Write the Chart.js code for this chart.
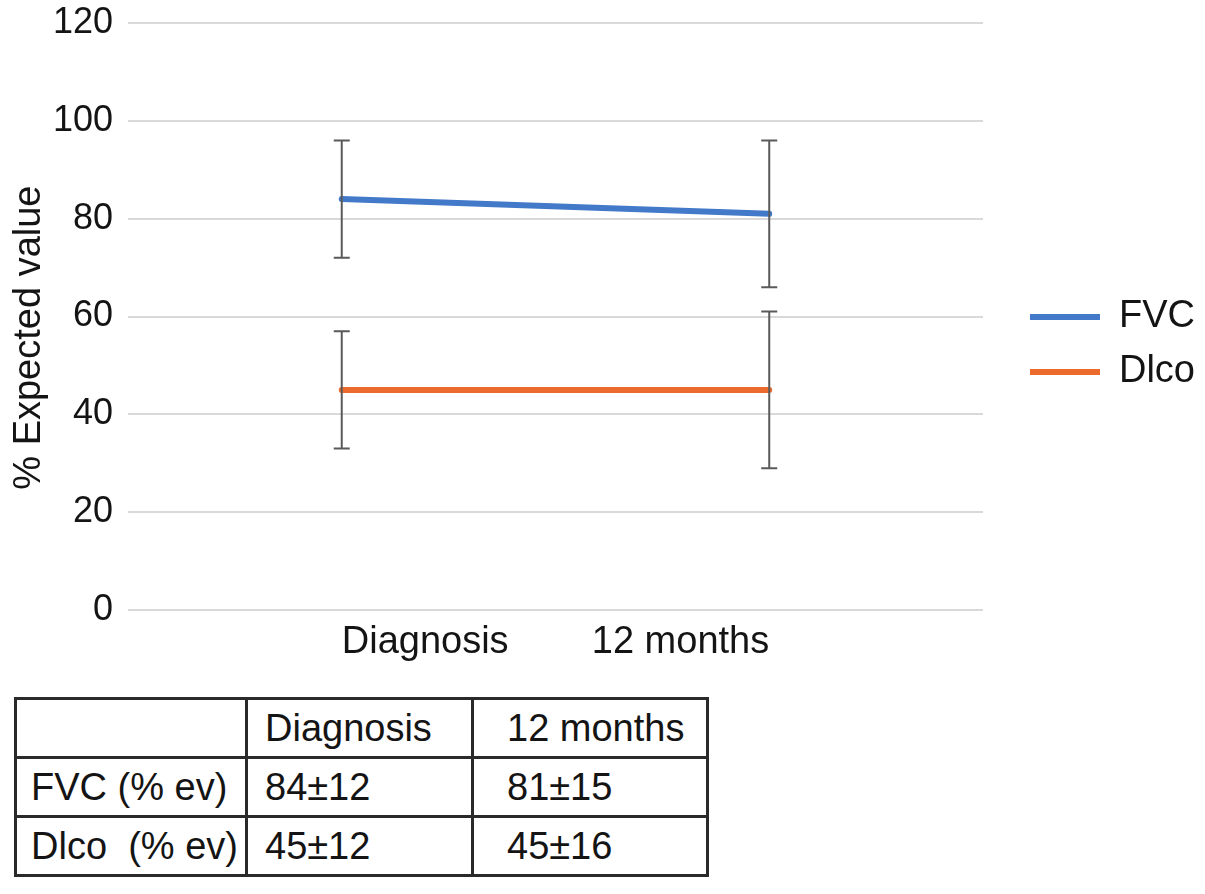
<!DOCTYPE html>
<html>
<head>
<meta charset="utf-8">
<script src="https://cdn.jsdelivr.net/npm/chart.js@4/dist/chart.umd.min.js"></script>
<style>
  html, body { margin: 0; padding: 0; background: #ffffff; }
  body { width: 1205px; height: 894px; position: relative; overflow: hidden; font-family: "Liberation Sans", Arial, sans-serif; }
  #wrap { position: absolute; left: 0; top: 0; width: 1205px; height: 666px; }
  table { position: absolute; left: 14px; top: 697px; border-collapse: collapse; font-family: "Liberation Sans", Arial, sans-serif; font-size: 38px; color: #141414; }
  td { border: 3px solid #2a2a2a; height: 56px; padding: 0; vertical-align: middle; white-space: pre; }
  td.c0 { width: 214px; padding-left: 14px; }
  td.c1 { width: 206px; padding-left: 17px; }
  td.c2 { width: 199px; padding-left: 33px; }
</style>
</head>
<body>
<div id="wrap"><canvas id="c"></canvas></div>
<table id="tbl"></table>
<script>
// ---- data ----
const categories = ["Diagnosis", "12 months"];
const seriesNames = ["FVC", "Dlco"];
const fvcMean = [84, 81];
const fvcSD = [12, 15];
const dlcoMean = [45, 45];
const dlcoSD = [12, 16];
const yTicks = [0, 20, 40, 60, 80, 100, 120];
const tableHeader = ["", "Diagnosis", "12 months"];
const tableRowLabels = ["FVC (% ev)", "Dlco  (% ev)"];

// ---- table ----
(function buildTable() {
  const tbl = document.getElementById('tbl');
  const rows = [tableHeader];
  rows.push([tableRowLabels[0], fvcMean[0] + "\u00B1" + fvcSD[0], fvcMean[1] + "\u00B1" + fvcSD[1]]);
  rows.push([tableRowLabels[1], dlcoMean[0] + "\u00B1" + dlcoSD[0], dlcoMean[1] + "\u00B1" + dlcoSD[1]]);
  rows.forEach(r => {
    const tr = document.createElement('tr');
    r.forEach((txt, i) => {
      const td = document.createElement('td');
      td.className = 'c' + i;
      td.textContent = txt;
      tr.appendChild(td);
    });
    tbl.appendChild(tr);
  });
})();

// ---- error bars plugin ----
const errorBars = {
  id: 'errorBars',
  afterDatasetsDraw(chart) {
    const ctx = chart.ctx;
    const yS = chart.scales.y;
    ctx.save();
    ctx.strokeStyle = '#5a5a5a';
    ctx.lineWidth = 2;
    chart.data.datasets.forEach((ds, i) => {
      const meta = chart.getDatasetMeta(i);
      meta.data.forEach((pt, j) => {
        const m = ds.data[j], e = ds.errors[j];
        const x = pt.x;
        const yt = yS.getPixelForValue(m + e);
        const yb = yS.getPixelForValue(m - e);
        const cap = 8;
        ctx.beginPath();
        ctx.moveTo(x, yt); ctx.lineTo(x, yb);
        ctx.moveTo(x - cap, yt); ctx.lineTo(x + cap, yt);
        ctx.moveTo(x - cap, yb); ctx.lineTo(x + cap, yb);
        ctx.stroke();
      });
    });
    ctx.restore();
  }
};

const FONT = "'Liberation Sans', Arial, sans-serif";
const colors = ['#4279C9', '#EC6A2C'];

new Chart(document.getElementById('c'), {
  type: 'line',
  data: {
    labels: categories,
    datasets: [
      { label: seriesNames[0], data: fvcMean, errors: fvcSD, borderColor: colors[0], backgroundColor: colors[0], borderWidth: 6, pointRadius: 0, borderCapStyle: 'round', tension: 0 },
      { label: seriesNames[1], data: dlcoMean, errors: dlcoSD, borderColor: colors[1], backgroundColor: colors[1], borderWidth: 6, pointRadius: 0, borderCapStyle: 'round', tension: 0 }
    ]
  },
  options: {
    responsive: true,
    maintainAspectRatio: false,
    animation: false,
    layout: { padding: { top: 23, right: 0, bottom: 0, left: 0 } },
    plugins: {
      tooltip: { enabled: false },
      legend: {
        position: 'right',
        align: 'center',
        labels: {
          boxWidth: 70,
          boxHeight: 6,
          padding: 17,
          color: '#141414',
          useBorderRadius: true,
          borderRadius: 3,
          font: { family: FONT, size: 38 },
          generateLabels(chart) {
            return chart.data.datasets.map((ds, i) => ({
              text: ds.label,
              fillStyle: ds.borderColor,
              strokeStyle: ds.borderColor,
              lineWidth: 0,
              hidden: false,
              datasetIndex: i,
              fontColor: '#141414'
            }));
          }
        }
      }
    },
    scales: {
      x: {
        offset: true,
        grid: { display: false, drawTicks: false },
        border: { display: false },
        ticks: { color: '#141414', padding: 10, align: 'inner', font: { family: FONT, size: 38 } },
        afterFit(s) { s.height = 56; }
      },
      y: {
        min: 0, max: 120,
        afterBuildTicks(s) { s.ticks = yTicks.map(v => ({ value: v })); },
        grid: { color: '#d9d9d9', lineWidth: 2, drawTicks: false },
        border: { display: false },
        ticks: { color: '#141414', padding: 15, font: { family: FONT, size: 36 } },
        title: { display: true, text: '% Expected value    ', color: '#141414', font: { family: FONT, size: 38 }, padding: { top: 7, bottom: 0 } },
        afterFit(s) { s.width = 128; s.paddingTop = 0; s.paddingBottom = 0; }
      },
      gap: {
        type: 'linear',
        position: 'right',
        display: true,
        grid: { display: false, drawTicks: false },
        border: { display: false },
        ticks: { display: false },
        afterFit(s) { s.width = 30; }
      }
    }
  },
  plugins: [errorBars]
});
</script>
</body>
</html>
